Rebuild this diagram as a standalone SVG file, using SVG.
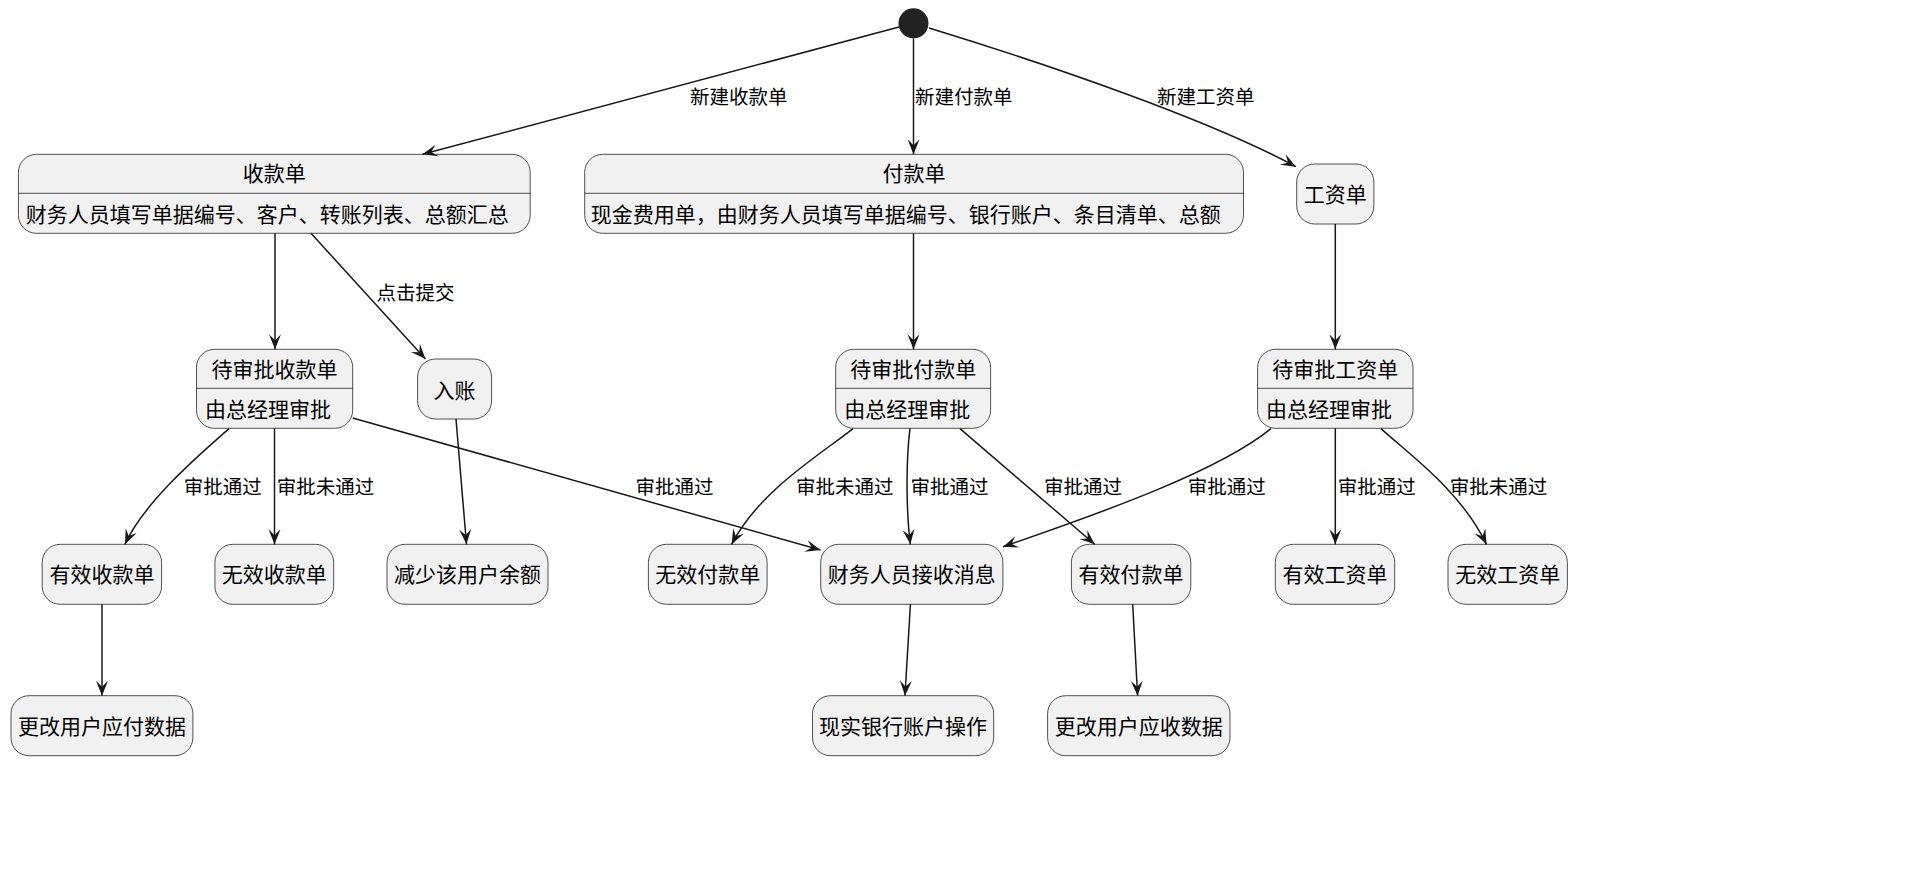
<svg xmlns="http://www.w3.org/2000/svg" width="1920" height="870" viewBox="0 0 1920 870">
<style>
.box{fill:#F1F1F1;stroke:#181818;stroke-width:0.75}
.div{stroke:#181818;stroke-width:0.75}
.nt{font-family:"Noto Sans CJK SC","Noto Sans",sans-serif;font-size:21px;fill:#000}
.c{text-anchor:middle}
.lb{font-family:"Noto Sans CJK SC","Noto Sans",sans-serif;font-size:19.5px;fill:#000}
.e{fill:none;stroke:#181818;stroke-width:1.5}
</style>
<defs>
<marker id="ah" markerUnits="userSpaceOnUse" viewBox="-16 -7 17 14" markerWidth="17" markerHeight="14" refX="0" refY="0" orient="auto">
<path d="M0,0 L-15,-6 L-9,0 L-15,6 Z" fill="#181818"/>
</marker>
</defs>
<rect width="1920" height="870" fill="#fff"/>
<g id="start"><circle cx="913.5" cy="23.3" r="15" fill="#222"/></g>
<g id="receipt">
<rect class="box" x="18.4" y="154.3" width="511.8" height="79" rx="18"/>
<line class="div" x1="18.4" y1="193.3" x2="530.2" y2="193.3"/>
<text class="nt c" x="274.3" y="181">收款单</text>
<text class="nt" x="25.7" y="221.5">财务人员填写单据编号、客户、转账列表、总额汇总</text>
</g>
<g id="payment">
<rect class="box" x="584.7" y="154.3" width="658.8" height="79" rx="18"/>
<line class="div" x1="584.7" y1="193.3" x2="1243.5" y2="193.3"/>
<text class="nt c" x="914.1" y="181">付款单</text>
<text class="nt" x="590.8" y="221.5">现金费用单，由财务人员填写单据编号、银行账户、条目清单、总额</text>
</g>
<g id="salary">
<rect class="box" x="1296.7" y="164" width="77.2" height="60" rx="18"/>
<text class="nt c" x="1335.3" y="202">工资单</text>
</g>
<g id="pendingReceipt">
<rect class="box" x="196.5" y="349.3" width="156.2" height="79" rx="18"/>
<line class="div" x1="196.5" y1="388.3" x2="352.7" y2="388.3"/>
<text class="nt c" x="274.6" y="376.5">待审批收款单</text>
<text class="nt" x="205" y="416.5">由总经理审批</text>
</g>
<g id="entry">
<rect class="box" x="417.6" y="359" width="74" height="60" rx="18"/>
<text class="nt c" x="454.6" y="398">入账</text>
</g>
<g id="pendingPayment">
<rect class="box" x="835.7" y="349.3" width="154.9" height="79" rx="18"/>
<line class="div" x1="835.7" y1="388.3" x2="990.6" y2="388.3"/>
<text class="nt c" x="913.2" y="376.5">待审批付款单</text>
<text class="nt" x="844.2" y="416.5">由总经理审批</text>
</g>
<g id="pendingSalary">
<rect class="box" x="1257.6" y="349.3" width="155.4" height="79" rx="18"/>
<line class="div" x1="1257.6" y1="388.3" x2="1413" y2="388.3"/>
<text class="nt c" x="1335.3" y="376.5">待审批工资单</text>
<text class="nt" x="1266" y="416.5">由总经理审批</text>
</g>
<g id="validReceipt">
<rect class="box" x="42.2" y="544.3" width="119.4" height="60" rx="18"/>
<text class="nt c" x="101.9" y="582.3">有效收款单</text>
</g>
<g id="invalidReceipt">
<rect class="box" x="214.9" y="544.3" width="118.8" height="60" rx="18"/>
<text class="nt c" x="274.3" y="582.3">无效收款单</text>
</g>
<g id="reduceBalance">
<rect class="box" x="387" y="544.3" width="161" height="60" rx="18"/>
<text class="nt c" x="467.5" y="582.3">减少该用户余额</text>
</g>
<g id="invalidPayment">
<rect class="box" x="648.4" y="544.3" width="118.7" height="60" rx="18"/>
<text class="nt c" x="707.8" y="582.3">无效付款单</text>
</g>
<g id="financeMsg">
<rect class="box" x="820.7" y="544.3" width="182.2" height="60" rx="18"/>
<text class="nt c" x="911.8" y="582.3">财务人员接收消息</text>
</g>
<g id="validPayment">
<rect class="box" x="1071.4" y="544.3" width="119.4" height="60" rx="18"/>
<text class="nt c" x="1131.1" y="582.3">有效付款单</text>
</g>
<g id="validSalary">
<rect class="box" x="1275.3" y="544.3" width="119.4" height="60" rx="18"/>
<text class="nt c" x="1335" y="582.3">有效工资单</text>
</g>
<g id="invalidSalary">
<rect class="box" x="1448" y="544.3" width="119.4" height="60" rx="18"/>
<text class="nt c" x="1507.7" y="582.3">无效工资单</text>
</g>
<g id="changePayable">
<rect class="box" x="11" y="695.7" width="181.9" height="60" rx="18"/>
<text class="nt c" x="102" y="733.7">更改用户应付数据</text>
</g>
<g id="bankOp">
<rect class="box" x="812.5" y="695.7" width="181.2" height="60" rx="18"/>
<text class="nt c" x="903.1" y="733.7">现实银行账户操作</text>
</g>
<g id="changeReceivable">
<rect class="box" x="1047.6" y="695.7" width="182.4" height="60" rx="18"/>
<text class="nt c" x="1138.8" y="733.7">更改用户应收数据</text>
</g>
<g id="connectors">
<path class="e" marker-end="url(#ah)" d="M899,27 L422.5,154.3"/>
<path class="e" marker-end="url(#ah)" d="M913.5,38.3 L913.5,154.3"/>
<path class="e" marker-end="url(#ah)" d="M929,28 C1050,65 1210,120 1296,166.7"/>
<path class="e" marker-end="url(#ah)" d="M275,233.3 L275,349.3"/>
<path class="e" marker-end="url(#ah)" d="M311,233.3 L425.5,359"/>
<path class="e" marker-end="url(#ah)" d="M913.5,233.3 L913.5,349.3"/>
<path class="e" marker-end="url(#ah)" d="M1335.3,224 L1335.3,349.3"/>
<path class="e" marker-end="url(#ah)" d="M229,428.6 C205,450 145,500 125,544.3"/>
<path class="e" marker-end="url(#ah)" d="M274.5,428.3 L274.5,544.3"/>
<path class="e" marker-end="url(#ah)" d="M352.7,418 L820.5,550"/>
<path class="e" marker-end="url(#ah)" d="M456,419 L466.5,544.3"/>
<path class="e" marker-end="url(#ah)" d="M102,604.3 L102,695.7"/>
<path class="e" marker-end="url(#ah)" d="M853,428.6 C820,455 760,490 731.6,544.3"/>
<path class="e" marker-end="url(#ah)" d="M910,428.3 C906,460 906,510 910.4,544.3"/>
<path class="e" marker-end="url(#ah)" d="M960,428.6 L1094.7,544.3"/>
<path class="e" marker-end="url(#ah)" d="M1271,428.6 C1220,470 1110,510 1003,546.7"/>
<path class="e" marker-end="url(#ah)" d="M1335.3,428.3 L1335.3,544.3"/>
<path class="e" marker-end="url(#ah)" d="M1381,428.6 C1410,455 1460,490 1486.5,544.3"/>
<path class="e" marker-end="url(#ah)" d="M910.4,604.3 L905,695.7"/>
<path class="e" marker-end="url(#ah)" d="M1132.7,604.3 L1137.6,695.7"/>
<text class="lb" x="690" y="104">新建收款单</text>
<text class="lb" x="915" y="104">新建付款单</text>
<text class="lb" x="1157" y="104">新建工资单</text>
<text class="lb" x="376.5" y="299.7">点击提交</text>
<text class="lb" x="183.7" y="494">审批通过</text>
<text class="lb" x="276.7" y="494">审批未通过</text>
<text class="lb" x="635.5" y="494">审批通过</text>
<text class="lb" x="796" y="494">审批未通过</text>
<text class="lb" x="910.4" y="494">审批通过</text>
<text class="lb" x="1043.9" y="494">审批通过</text>
<text class="lb" x="1187.8" y="494">审批通过</text>
<text class="lb" x="1337.8" y="494">审批通过</text>
<text class="lb" x="1449.8" y="494">审批未通过</text>
</g>
</svg>
